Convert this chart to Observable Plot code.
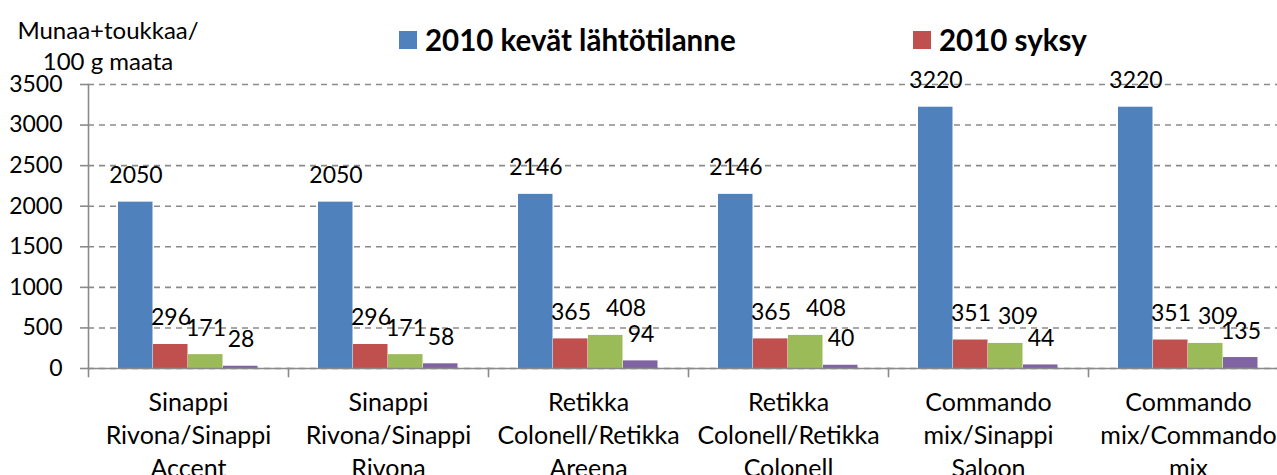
<!DOCTYPE html>
<html>
<head>
<meta charset="utf-8">
<script src="https://cdn.jsdelivr.net/npm/d3@7"></script>
<script src="https://cdn.jsdelivr.net/npm/@observablehq/plot@0.6"></script>
<style>
  body { margin: 0; background: #fff; font-family: Lato, sans-serif; }
  #wrap { position: relative; width: 1277px; height: 475px; overflow: hidden; background: #fff; }
  .leg { position: absolute; display: flex; align-items: center; font-weight: bold; font-size: 29.5px; color: #000; white-space: nowrap; line-height: 1; }
  .sw { width: 18px; height: 18px; margin-right: 8px; flex: none; }
  .ytitle { position: absolute; left: 8px; top: 14px; width: 200px; text-align: center; font-size: 24px; line-height: 31px; color: #000; }
  #chart { position: absolute; left: 0; top: 0; }
</style>
</head>
<body>
<div id="wrap">
  <div id="chart"></div>
  <div class="ytitle">Munaa+toukkaa/<br>100 g maata</div>
  <div id="legend"></div>
</div>
<script>
// ---- data ----
const categories = [
  "Sinappi\nRivona/Sinappi\nAccent",
  "Sinappi\nRivona/Sinappi\nRivona",
  "Retikka\nColonell/Retikka\nAreena",
  "Retikka\nColonell/Retikka\nColonell",
  "Commando\nmix/Sinappi\nSaloon",
  "Commando\nmix/Commando\nmix"
];
const seriesNames = ["2010 kevät lähtötilanne", "2010 syksy", "Sarja 3", "Sarja 4"];
const spring2010 = [2050, 2050, 2146, 2146, 3220, 3220];
const autumn2010 = [296, 296, 365, 365, 351, 351];
const series3 = [171, 171, 408, 408, 309, 309];
const series4 = [28, 58, 94, 40, 44, 135];
const yTicks = [0, 500, 1000, 1500, 2000, 2500, 3000, 3500];
const colors = ["#4F81BD", "#C0504D", "#9BBB59", "#8064A2"];
const legendSeries = ["2010 kevät lähtötilanne", "2010 syksy"];

const seriesValues = [spring2010, autumn2010, series3, series4];
const rows = [];
categories.forEach((c, i) => {
  seriesNames.forEach((s, j) => rows.push({cat: c, ci: i, si: j, series: s, value: seriesValues[j][i]}));
});

const grey = "#8a8a8a";
const labelOpts = {fx: "cat", x: "series", y: "value", text: d => String(d.value), dy: -19, lineAnchor: "bottom", fontSize: 23, fill: "black"};
// labels nudged to the right in the original (to avoid overlap with neighbours)
const nudgedA = d => d.si === 2 && (d.ci === 2 || d.ci === 3);
const nudgedB = d => d.si === 2 && (d.ci === 4 || d.ci === 5);

const chart = Plot.plot({
  width: 1277,
  height: 475,
  marginTop: 84,
  marginBottom: 107,
  marginLeft: 88,
  marginRight: -11,
  style: {fontFamily: "Lato, sans-serif", overflow: "hidden", background: "transparent"},
  fx: {domain: categories, padding: 0, axis: null},
  x: {domain: seriesNames, paddingInner: 0, paddingOuter: 0.78, axis: null},
  y: {domain: [0, 3500], axis: null},
  color: {domain: seriesNames, range: colors},
  marks: [
    Plot.gridY(yTicks, {stroke: grey, strokeOpacity: 1, strokeWidth: 1.6, strokeDasharray: "6,5"}),
    Plot.barY(rows, {fx: "cat", x: "series", y: "value", fill: "series", insetRight: 0.5}),
    Plot.ruleY([0], {stroke: grey, strokeWidth: 1.6}),
    Plot.frame({anchor: "left", facetAnchor: "left", stroke: grey, strokeWidth: 1.6}),
    Plot.frame({anchor: "left", insetTop: 284, insetBottom: -8, stroke: grey, strokeWidth: 1.6}),
    Plot.axisY(yTicks, {label: null, tickFormat: d => String(d), tickSize: 8, tickPadding: 18, fontSize: 23, stroke: grey, strokeWidth: 1.6, fill: "black"}),
    Plot.text(rows.filter(d => !nudgedA(d) && !nudgedB(d)), labelOpts),
    Plot.text(rows.filter(nudgedA), {...labelOpts, dx: 20}),
    Plot.text(rows.filter(nudgedB), {...labelOpts, dx: 12}),
    Plot.text(categories, {fx: d => d, text: d => d, frameAnchor: "bottom", dy: 19, lineAnchor: "top", lineHeight: 1.32, fontSize: 25, fill: "black"})
  ]
});
document.getElementById("chart").appendChild(chart);

// legend (HTML)
const legPos = [{left: 399, top: 25}, {left: 913, top: 25}];
const legend = document.getElementById("legend");
legendSeries.forEach((s, i) => {
  const el = document.createElement("div");
  el.className = "leg";
  el.style.left = legPos[i].left + "px";
  el.style.top = legPos[i].top + "px";
  const sw = document.createElement("span");
  sw.className = "sw";
  sw.style.background = colors[seriesNames.indexOf(s)];
  el.appendChild(sw);
  el.appendChild(document.createTextNode(s));
  legend.appendChild(el);
});
</script>
</body>
</html>
